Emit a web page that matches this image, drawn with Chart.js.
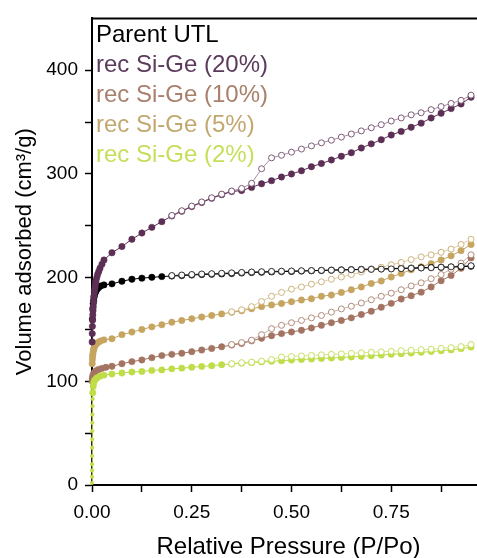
<!DOCTYPE html>
<html><head><meta charset="utf-8">
<script src="https://cdn.jsdelivr.net/npm/chart.js@4.4.1/dist/chart.umd.min.js"></script>
<style>
html,body{margin:0;padding:0;background:#fff;overflow:hidden;}
#wrap{position:relative;width:477px;height:558px;overflow:hidden;}
#c{position:absolute;left:0;top:0;}
#legend{position:absolute;left:96px;top:19px;font-family:"Liberation Sans",Arial,sans-serif;font-size:24px;line-height:30px;white-space:nowrap;}
</style></head><body>
<div id="wrap"><canvas id="c" width="490" height="558"></canvas><div id="legend"></div></div>
<script>
// ---- data ----
const seriesNames = ["Parent UTL","rec Si-Ge (20%)","rec Si-Ge (10%)","rec Si-Ge (5%)","rec Si-Ge (2%)"];
const xTicks = [0,0.125,0.25,0.375,0.5,0.625,0.75,0.875];
const yTicks = [0,50,100,150,200,250,300,350,400];

// common relative-pressure grid of the adsorption branch
const xAds = [0.05,0.075,0.1,0.125,0.15,0.175,0.2,0.225,0.25,0.275,0.3,0.325,0.35,0.375,0.4,0.425,0.45,0.475,0.5,0.525,0.55,0.575,0.6,0.625,0.65,0.675,0.7,0.725,0.75,0.775,0.8,0.825,0.85,0.875,0.9,0.925,0.95];
// desorption grids
const xDesLong = [0.2,0.225,0.25,0.275,0.3,0.325,0.35,0.375,0.4,0.425,0.45,0.475,0.5,0.525,0.55,0.575,0.6,0.625,0.65,0.675,0.7,0.725,0.75,0.775,0.8,0.825,0.85,0.875,0.9,0.925,0.95];
const xDesShort = [0.35,0.375,0.4,0.425,0.45,0.475,0.5,0.525,0.55,0.575,0.6,0.625,0.65,0.675,0.7,0.725,0.75,0.775,0.8,0.825,0.85,0.875,0.9,0.925,0.95];

// Parent UTL
const lowXParent = [0.001,0.002,0.003,0.004,0.005,0.006,0.008,0.01,0.013,0.017,0.022,0.03];
const lowYParent = [160,170,175,178,181,183,185.5,187,189,190.5,192,193];
const adsParent = [194,196.5,198.5,199.5,200.3,201,201.5,202,202.5,203,203.3,203.6,204,204.5,205,205.2,205.5,205.8,206,206.3,206.6,206.9,207.2,207.5,207.7,208,208.2,208.5,208.7,209,209.2,209.5,209.7,210,210.2,210.5,211];
const desParent = [202,202.5,203,203.5,203.8,204.2,204.6,205,205.4,205.7,206,206.2,206.4,206.6,206.8,207,207.2,207.4,207.6,207.8,208,208.2,208.4,208.7,209,209.3,209.6,210,210.4,210.9,211.5];

// rec Si-Ge (20%)
const lowX20 = [0.0003,0.0006,0.001,0.0015,0.002,0.0025,0.003,0.004,0.005,0.006,0.007,0.008,0.009,0.01,0.012,0.014,0.017,0.02,0.025,0.03];
const lowY20 = [138,146,153,159,164,168,172,177,182,186,189,192,195,197,200,203,206,209,213,217];
const ads20 = [224,230,237,243,248.5,254,259.5,264,268.5,272.5,276.5,280,283,284,287,290.5,293.5,297,300,303,307,310,313.5,317,320.5,325,329,333,337.5,341,345,349,354,358.5,363,367.5,374];
const des20 = [260,264.5,269,273,277,280.5,283.5,286,291,305,315.5,318,321,324,327,330,332.5,335.5,338.5,341.5,344.5,347.5,351,354,357,359,362,365,368,371,376];

// rec Si-Ge (10%)
const lowX10 = [0.0005,0.001,0.002,0.003,0.005,0.008,0.012,0.017,0.025,0.035];
const lowY10 = [100,103,105,106.5,108,109.5,110.5,111.5,112.5,113.5];
const ads10 = [114.5,117,119,120.6,122.8,124.8,126,127,128.6,130.2,131.7,133.3,135,136.5,139,141.5,144,146,147.6,149.2,151.4,154,156.5,158.7,161.2,164.4,167.6,171.4,175.2,179.4,182.5,186,191,197,202,209,219];
const des10 = [135.5,137.4,139.7,145,150.8,154,156.5,158.7,161.2,163.5,166.7,169.8,172.4,175.5,178.7,182,185,188.3,192,195,199,203,208,214,222];

// rec Si-Ge (5%)
const lowX5 = [0.0005,0.001,0.0015,0.002,0.003,0.004,0.005,0.007,0.01,0.013,0.017,0.022,0.03];
const lowY5 = [117,121,124,126,128.5,130.5,132,134,135.5,137,138,139,140];
const ads5 = [141,145,147.5,150,152.5,154.5,157,158.7,160.3,162,163.5,165,166.5,168,170,172,173.7,175,176.8,178.4,179.6,182,183.2,185.7,188.3,191,194.3,196.8,200.6,204,207.5,210.5,213.5,217,221,226,232];
const des5 = [167,169,172,177,182,185.7,188.9,191,193.7,196,198.4,200.6,203,205.4,208,210,212.4,214.6,217.4,220,222,224.4,227.5,232,237];

// rec Si-Ge (2%)
const lowX2 = [0.00005,0.0001,0.00015,0.0002,0.0003,0.0004,0.0005,0.0006,0.0008,0.001,0.0013,0.0016,0.002,0.003,0.004,0.006,0.009,0.013,0.02,0.03];
const lowY2 = [2,8,14,20,28,36,44,52,60,68,76,83,89,95,98,100.5,102,103.5,105,106];
const ads2 = [107,108,109,109.5,110.5,111,112,112.7,113.5,114.3,115,116,116.7,117.5,118,118.7,119.3,119.8,120.5,121,121.5,122,122.5,123,123.5,124,124.7,125.3,126,126.6,127.3,128,128.7,129.5,130.3,131.5,133];
const des2 = [117,118,118.5,119.5,121,123.5,124,124.5,125,125.5,126,126.5,127,127.5,128,128.5,129,129.5,130,130.5,131,131.8,132.5,133.5,135.5];

// ---- styling ----
const colors = ["#000000","#5d2f55","#a47462","#c5a560","#bedd48"];
const openColors = ["#333333","#7d5a76","#b08a7a","#cdb27a","#c6e066"];
const textColors = ["#000000","#5b3a5b","#a8806c","#c2a86e","#c5df5a"];
const desLine = ["rgba(0,0,0,0.7)","rgba(93,47,85,0.55)","rgba(164,116,98,0.55)","rgba(197,165,96,0.55)","rgba(190,221,72,0.65)"];
const FONT = '"Liberation Sans", Arial, sans-serif';

const pts = (xs, ys) => xs.map((x, i) => ({x, y: ys[i]}));
const series = [
  {ads: pts(lowXParent.concat(xAds), lowYParent.concat(adsParent)), des: pts(xDesLong, desParent), ord: 2.2},
  {ads: pts(lowX20.concat(xAds), lowY20.concat(ads20)), des: pts(xDesLong, des20), ord: 2.1},
  {ads: pts(lowX10.concat(xAds), lowY10.concat(ads10)), des: pts(xDesShort, des10), ord: 2.4},
  {ads: pts(lowX5.concat(xAds), lowY5.concat(ads5)), des: pts(xDesShort, des5), ord: 2.3},
  {ads: pts(lowX2.concat(xAds), lowY2.concat(ads2)), des: pts(xDesShort, des2), ord: 2.0}
];

const datasets = [];
series.forEach((s, i) => {
  datasets.push({
    label: seriesNames[i] + " ads", data: s.ads, showLine: true,
    borderColor: colors[i], borderWidth: 1,
    pointRadius: c => (i === 4 && c.raw && c.raw.x < 0.002) ? 1.8 : 3.2,
    pointBackgroundColor: colors[i], pointBorderColor: colors[i], pointBorderWidth: 0.5,
    order: s.ord, clip: 5
  });
  datasets.push({
    label: seriesNames[i] + " des", data: s.des, showLine: true,
    borderColor: desLine[i], borderWidth: 1, pointRadius: 3,
    pointBackgroundColor: "#ffffff", pointBorderColor: openColors[i], pointBorderWidth: 1,
    order: 1 + i * 0.01, clip: 5
  });
});

// legend (text only, inside plot area)
const leg = document.getElementById("legend");
seriesNames.forEach((n, i) => {
  const d = document.createElement("div");
  d.textContent = n; d.style.color = textColors[i];
  leg.appendChild(d);
});

const topBorder = {
  id: "topBorder",
  afterDraw(chart) {
    const {ctx, chartArea: a} = chart;
    ctx.save(); ctx.strokeStyle = "#000"; ctx.lineWidth = 2;
    ctx.beginPath(); ctx.moveTo(a.left - 1, a.top); ctx.lineTo(a.right + 2, a.top); ctx.stroke();
    ctx.restore();
  }
};

// the reference plot frame runs past the right edge of the picture (cropped)
const X_MAX = 0.985;

new Chart(document.getElementById("c"), {
  type: "scatter",
  data: {datasets},
  options: {
    responsive: false, animation: false, devicePixelRatio: 1,
    layout: {padding: {top: 14, right: 0, left: 0, bottom: 0}},
    plugins: {legend: {display: false}, tooltip: {enabled: false}},
    scales: {
      x: {
        type: "linear", min: 0, max: X_MAX,
        afterBuildTicks: s => { s.ticks = xTicks.map(v => ({value: v})); },
        afterFit: s => { s.height = 73; },
        ticks: {
          autoSkip: false, maxRotation: 0, color: "#000", padding: 9,
          font: {family: FONT, size: 19},
          callback: v => (Math.abs(v * 4 - Math.round(v * 4)) < 1e-6 ? v.toFixed(2) : "")
        },
        border: {color: "#000", width: 2},
        grid: {drawOnChartArea: false, tickLength: 7, tickColor: "#000", tickWidth: 1.5},
        title: {display: true, text: "Relative Pressure (P/Po)", color: "#000",
          font: {family: FONT, size: 24, lineHeight: 1}, padding: {top: 0, bottom: -1}}
      },
      y: {
        type: "linear", min: 0, max: 450,
        afterBuildTicks: s => { s.ticks = yTicks.map(v => ({value: v})); },
        afterFit: s => { s.width = 92; },
        ticks: {
          autoSkip: false, color: "#000", padding: 7,
          font: {family: FONT, size: 19},
          callback: v => (v % 100 === 0 ? String(v) : "")
        },
        border: {color: "#000", width: 2},
        grid: {drawOnChartArea: false, tickLength: 7, tickColor: "#000", tickWidth: 1.5},
        title: {display: true, text: "Volume adsorbed (cm³/g)", color: "#000",
          font: {family: FONT, size: 22, lineHeight: 1}, padding: {top: 14, bottom: 0}}
      }
    }
  },
  plugins: [topBorder]
});
</script>
</body></html>
